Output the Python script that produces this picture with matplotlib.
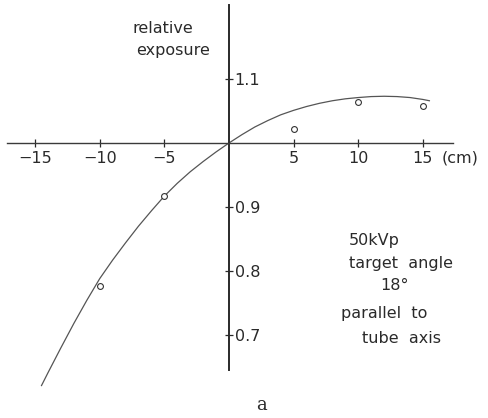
import matplotlib
matplotlib.use("Agg")
import matplotlib.pyplot as plt

# measured points (distance from centre, cm) and relative exposure
pos = [-10, -5, 5, 10, 15]
exposure = [0.777, 0.917, 1.022, 1.064, 1.058]

# fitted curve, read along its length
curve_x = [-14.5, -14, -13, -12, -11, -10, -9, -8, -7, -6, -5, -4, -3, -2, -1,
           0, 1, 2, 3, 4, 5, 6, 7, 8, 9, 10, 11, 12, 13, 14, 15, 15.5]
curve_y = [0.621, 0.641, 0.680, 0.718, 0.754, 0.788, 0.817, 0.844, 0.870,
           0.894, 0.917, 0.937, 0.955, 0.971, 0.986, 1.000, 1.013, 1.025,
           1.035, 1.044, 1.051, 1.057, 1.062, 1.066, 1.069, 1.071, 1.0725,
           1.073, 1.0725, 1.071, 1.068, 1.066]

xticks = [-15, -10, -5, 5, 10, 15]
xlabels = ['−15', '−10', '−5', '5', '10', '15']
yticks = [0.7, 0.8, 0.9, 1.1]
ylabels = ['0.7', '0.8', '0.9', '1.1']

plt.rcParams['font.family'] = ['DejaVu Sans']

fig = plt.figure(figsize=(4.89, 4.18), dpi=100)
ax = fig.add_axes([0, 0, 1, 1])
ax.set_xlim(-17.71, 20.11)
ax.set_ylim(0.5703, 1.2234)

ax.plot(curve_x, curve_y, color='#555555', lw=0.9)
ax.plot(pos, exposure, 'o', ms=4.2, mfc='white', mec='#333333', mew=0.8)

# axes cross at (0, 1.0)
ax.spines['left'].set_visible(False)
ax.spines['top'].set_visible(False)
ax.spines['right'].set_position(('data', 0))
ax.spines['bottom'].set_position(('data', 1.0))
ax.spines['right'].set_bounds(0.645, 1.2156)
ax.spines['bottom'].set_bounds(-17.2, 17.3)
ax.spines['right'].set_linewidth(1.4)
ax.spines['bottom'].set_linewidth(1.0)
ax.spines['right'].set_color('#2a2a2a')
ax.spines['bottom'].set_color('#3a3a3a')

ax.yaxis.tick_right()
ax.set_yticks(yticks)
ax.set_yticklabels(ylabels)
ax.set_xticks(xticks)
ax.set_xticklabels(xlabels)
ax.tick_params(axis='both', direction='inout', length=6, width=0.9,
               colors='#2a2a2a', labelsize=11.5, labelcolor='#2a2a2a')
ax.tick_params(axis='y', pad=1)
ax.tick_params(axis='x', pad=3)
ax.patch.set_alpha(0)

txt = dict(color='#2a2a2a', fontsize=11.5)
ax.text(-17.71 + 133 / 12.93, 1.2234 - 28 / 640, 'relative', va='center', **txt)
ax.text(-17.71 + 136 / 12.93, 1.2234 - 50 / 640, 'exposure', va='center', **txt)
ax.text(-17.71 + 442 / 12.93, 1.2234 - 158 / 640, '(cm)', va='center', **txt)

ax.text(-17.71 + 349 / 12.93, 1.2234 - 240 / 640, '50kVp', va='center', **txt)
ax.text(-17.71 + 349 / 12.93, 1.2234 - 263 / 640, 'target  angle', va='center', **txt)
ax.text(-17.71 + 380 / 12.93, 1.2234 - 285 / 640, '18°', va='center', **txt)
ax.text(-17.71 + 341 / 12.93, 1.2234 - 313 / 640, 'parallel  to', va='center', **txt)
ax.text(-17.71 + 362 / 12.93, 1.2234 - 338 / 640, 'tube  axis', va='center', **txt)

ax.text(-17.71 + 262 / 12.93, 1.2234 - 405 / 640, 'a', ha='center', va='center',
        family='DejaVu Serif', fontsize=13, color='#2a2a2a')

fig.savefig('out.png', dpi=100)
